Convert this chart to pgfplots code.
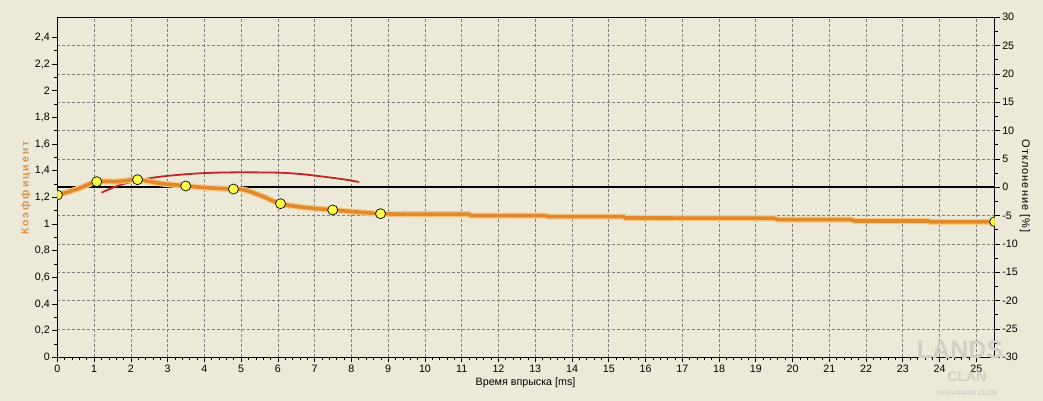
\documentclass[border=0pt]{standalone}
\usepackage{pgfplots}
\pgfplotsset{compat=1.18}
\usepackage{fontspec}
\setmainfont{Liberation Sans}
\newfontfamily\spacedfont[LetterSpace=19]{Liberation Sans}
\newfontfamily\rightlabelfont[LetterSpace=9]{Liberation Sans}

\definecolor{bg}{RGB}{236,233,216}
\definecolor{gridc}{RGB}{128,128,128}
\definecolor{orangec}{RGB}{225,137,45}
\definecolor{haloc}{RGB}{246,200,130}
\definecolor{redc}{RGB}{192,38,38}
\definecolor{marky}{RGB}{255,255,70}
\definecolor{labelor}{RGB}{220,148,70}
\definecolor{wmark}{RGB}{208,206,198}

\pgfplotsset{
  chartbase/.style={
    at={(57.4pt,43.7pt)}, anchor=south west,
    scale only axis, width=937.3pt, height=340pt,
    xmin=0, xmax=25.5,
    tick align=outside,
    major tick length=5pt, minor tick length=3pt,
    every tick/.style={black, line width=0.7pt},
    tick label style={font=\fontsize{10.7}{12}\selectfont},
    /pgf/number format/assume math mode=true,
    grid style={gridc, dash pattern=on 3pt off 2pt, line width=0.7pt},
    axis line style={line width=1pt},
  }
}

\begin{document}
\begin{tikzpicture}
\fill[bg] (0pt,0pt) rectangle (1043pt,401pt);
\path[use as bounding box] (0pt,0pt) rectangle (1043pt,401pt);

% right axis: deviation in %, carries the horizontal grid
\begin{axis}[
  chartbase,
  ymin=-30, ymax=30,
  axis y line*=right, axis x line=none,
  ytick={-30,-25,...,30}, minor y tick num=1,
  ymajorgrids=true,
  yticklabel style={anchor=west, xshift=-1pt},
]
\addplot[draw=none] coordinates {(0,0)};
\end{axis}

% left axis: coefficient vs injection time
\begin{axis}[
  chartbase,
  ymin=0, ymax=2.55,
  ytick={0,0.2,...,2.41}, minor y tick num=1,
  xtick={0,1,...,25}, minor x tick num=4,
  xtick pos=bottom, ytick pos=left,
  xmajorgrids=true,
  /pgf/number format/use comma,
  yticklabel style={/pgf/number format/fixed, anchor=east, xshift=1pt},
  xticklabel style={anchor=north, yshift=1pt},
  clip marker paths=true,
]
% zero-deviation line
\addplot[black, line width=2.4pt] coordinates {(0,1.275) (25.5,1.275)};

% red curve
\addplot[redc, line width=1.8pt, smooth] coordinates {
  (1.2,1.235) (1.7,1.292) (2.34,1.335) (2.97,1.36) (3.88,1.38)
  (4.78,1.387) (5.96,1.385) (6.6,1.375) (7.23,1.355) (7.78,1.335) (8.21,1.315)
};

% orange curve: halo and line
\pgfplotstableread{
x y
0 1.217
0.52 1.26
1.07 1.317
1.61 1.318
2.18 1.332
2.79 1.305
3.49 1.285
4.15 1.27
4.79 1.262
5.10 1.255
5.60 1.205
6.07 1.152
6.69 1.125
7.49 1.105
8.14 1.09
8.79 1.077
9.5 1.073
}\smoothpart
\pgfplotstableread{
x y
9.5 1.073
11.2 1.073
11.25 1.062
13.3 1.062
13.35 1.055
15.4 1.055
15.45 1.045
19.5 1.043
19.6 1.033
21.6 1.032
21.7 1.022
23.7 1.022
23.75 1.016
25.5 1.016
}\steppart
\addplot[haloc, line width=6pt, smooth, tension=0.5] table {\smoothpart};
\addplot[haloc, line width=6pt] table {\steppart};
\addplot[orangec, line width=3.6pt, smooth, tension=0.5] table {\smoothpart};
\addplot[orangec, line width=3.6pt] table {\steppart};

% measurement points
\addplot[only marks, mark=*, mark size=5pt,
  mark options={fill=marky, draw=black, line width=0.7pt}] coordinates {
  (0,1.217) (1.07,1.317) (2.18,1.332) (3.49,1.285) (4.79,1.262)
  (6.07,1.152) (7.49,1.105) (8.79,1.077) (25.5,1.017)
};
\end{axis}

% axis titles
\node[rotate=90, text=labelor, font=\spacedfont\bfseries\fontsize{10.5}{12}\selectfont]
  at (26pt,213pt) {Коэффициент};
\node[rotate=-90, font=\rightlabelfont\fontsize{11}{12}\selectfont]
  at (1025pt,215pt) {Отклонение [\%]};
\node[font=\fontsize{10.7}{12}\selectfont] at (525.5pt,18pt) {Время впрыска [ms]};

% watermark
\node[text=wmark, font=\bfseries\fontsize{25}{25}\selectfont] at (960pt,51pt) {LANDS};
\node[text=wmark, font=\bfseries\fontsize{14}{14}\selectfont] at (967pt,24pt) {CLAN};
\node[text=wmark, font=\bfseries\fontsize{7}{8}\selectfont] at (967pt,8pt) {UKRAINIAN CLUB};
\end{tikzpicture}
\end{document}
